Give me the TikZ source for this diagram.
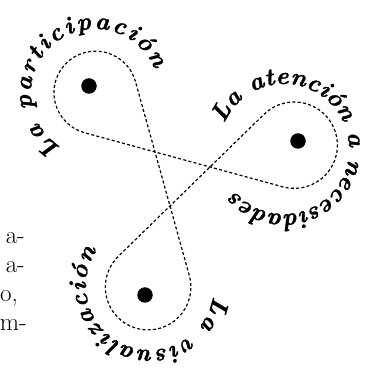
\documentclass[tikz,border=0pt]{standalone}
\usepackage{fontspec}
\setmainfont{Latin Modern Roman}
\newfontfamily\brushfont[FakeBold=1.4]{lmroman10-bolditalic.otf}
\usetikzlibrary{decorations.text}
\newcommand\curvefont{\fontsize{24.5}{24.5}\selectfont\brushfont}
\begin{document}
\begin{tikzpicture}[x=1pt,y=1pt,
  loopline/.style={line width=1.2pt, dash pattern=on 3pt off 2.3pt},
  hub/.style={circle, fill=black, inner sep=0pt, minimum size=15.5pt},
  frag/.style={anchor=base east, inner sep=0pt, font=\fontsize{25}{25}\selectfont},
  arctext/.style={decorate, decoration={text along path, text={|\curvefont|#1}, text align={fit to path}}},
]
\useasboundingbox (0,0) rectangle (367,372);
% loop centres
\coordinate (C1) at (95.5,279.3);
\coordinate (C2) at (294.2,226.8);
\coordinate (C3) at (148.1,84.9);
% centres of the curved labels
\coordinate (L1) at (95,279);
\coordinate (L2) at (284,223);
\coordinate (L3) at (150,86);
% tangent points of the three straight strands
\coordinate (T1A) at (135.44,290.41);
\coordinate (T2C) at (282.84,185.14);
\coordinate (T3B) at (118.23,115.53);
% dotted three-loop curve
\draw[loopline] (T1A) arc[start angle=15.5, end angle=254.7, radius=41.5]
  -- (T2C) arc[start angle=254.75, end angle=494.3, radius=43.2]
  -- (T3B) arc[start angle=134.3, end angle=375.5, radius=42.8]
  -- cycle;
% dots
\node[hub] (d1) at (89,286) {};
\node[hub] (d2) at (298,231) {};
\node[hub] (d3) at (145,77) {};
% curved labels
\path[arctext={La participación}] (L1) ++(238:64) arc[start angle=238, end angle=22, radius=64];
\path[arctext={La atención a necesidades}] (L2) ++(157:65) arc[start angle=157, end angle=-139, radius=65];
\path[arctext={La visualización}] (L3) ++(-9:64) arc[start angle=-9, end angle=-214, radius=64];
% fragments of body text at the left edge
\node[frag] (f1) at (25,128) {a-};
\node[frag] (f2) at (25,99) {a-};
\node[frag] (f3) at (18,70) {o,};
\node[frag] (f4) at (27,41) {m-};
\end{tikzpicture}
\end{document}
